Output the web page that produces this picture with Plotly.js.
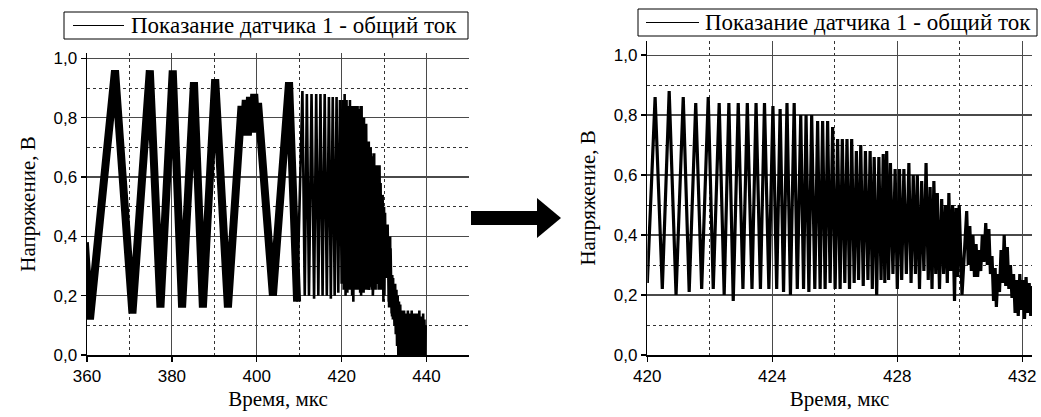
<!DOCTYPE html>
<html><head><meta charset="utf-8">
<script src="https://cdn.plot.ly/plotly-3.0.1.min.js"></script>
<style>html,body{margin:0;padding:0;background:#fff}#chart{width:1041px;height:417px}</style>
</head><body><div id="chart"></div>
<script>
// ---- data ----
// slow oscillation part, 360–409.5 µs (extrema)
const slowTime = [359.5, 360.7, 366.6, 370.7, 374.8, 377.3, 380.2, 382.4, 385.2, 387.3, 390.2, 393.2,
  396.4, 396.9, 397.4, 397.9, 398.4, 398.9, 399.4, 399.9, 400.3, 403.8, 407.6, 409.5];
const slowVolt = [0.38, 0.12, 0.96, 0.14, 0.96, 0.16, 0.96, 0.16, 0.92, 0.16, 0.93, 0.16,
  0.84, 0.74, 0.86, 0.74, 0.87, 0.75, 0.88, 0.76, 0.85, 0.20, 0.92, 0.18];
// narrow spikes, 409.5–420 µs
const spikeTime = [410.75, 411.3, 411.8, 412.3, 412.9, 413.5, 414.0, 414.5, 415.0, 415.5, 416.0, 416.5,
  417.0, 417.45, 417.9, 418.35, 418.8, 419.2, 419.6, 420.0];
const spikeVolt = [0.89, 0.20, 0.88, 0.20, 0.88, 0.19, 0.88, 0.20, 0.88, 0.20, 0.88, 0.20,
  0.87, 0.19, 0.87, 0.20, 0.87, 0.21, 0.86, 0.24];
// fast (chirped) oscillation, 420–430 µs
const chirpTime = [420.25, 420.48, 420.70, 420.92, 421.15, 421.34, 421.55, 421.74, 421.95, 422.11,
  422.30, 422.46, 422.61, 422.75, 422.91, 423.06, 423.20, 423.35, 423.48, 423.62, 423.75, 423.89,
  424.02, 424.14, 424.25, 424.36, 424.47, 424.58, 424.70, 424.80, 424.91, 425.00, 425.08, 425.17,
  425.26, 425.36, 425.45, 425.53, 425.61, 425.69, 425.77, 425.85, 425.93, 426.01, 426.09, 426.17,
  426.24, 426.32, 426.39, 426.47, 426.54, 426.62, 426.69, 426.76, 426.83, 426.91, 426.98, 427.06,
  427.13, 427.20, 427.26, 427.34, 427.41, 427.48, 427.55, 427.60, 427.66, 427.72, 427.78, 427.86,
  427.93, 428.00, 428.07, 428.14, 428.21, 428.29, 428.37, 428.44, 428.51, 428.58, 428.64, 428.71,
  428.78, 428.85, 428.92, 428.99, 429.05, 429.11, 429.17, 429.23, 429.28, 429.35, 429.42, 429.48,
  429.54, 429.60, 429.65, 429.71, 429.77, 429.83, 429.88, 429.93, 429.98];
const chirpVolt = [0.86, 0.22, 0.88, 0.20, 0.86, 0.21, 0.84, 0.22, 0.86, 0.22,
  0.84, 0.20, 0.84, 0.18, 0.84, 0.22, 0.84, 0.22, 0.84, 0.22, 0.84, 0.22,
  0.83, 0.22, 0.82, 0.21, 0.84, 0.20, 0.84, 0.22, 0.80, 0.22, 0.80, 0.21,
  0.80, 0.22, 0.78, 0.22, 0.78, 0.22, 0.78, 0.24, 0.76, 0.22, 0.72, 0.22,
  0.72, 0.24, 0.72, 0.22, 0.72, 0.24, 0.68, 0.25, 0.70, 0.23, 0.68, 0.25,
  0.68, 0.22, 0.66, 0.20, 0.66, 0.25, 0.67, 0.24, 0.68, 0.25, 0.64, 0.27,
  0.62, 0.22, 0.62, 0.25, 0.62, 0.27, 0.64, 0.24, 0.60, 0.27, 0.60, 0.22,
  0.58, 0.28, 0.64, 0.25, 0.56, 0.22, 0.58, 0.27, 0.54, 0.22, 0.52, 0.27,
  0.50, 0.24, 0.54, 0.28, 0.50, 0.18, 0.49, 0.26, 0.50];
// decay and noise, 430–440 µs
const decayTime = [430.07, 430.22, 430.27, 430.32, 430.37, 430.42, 430.47, 430.52, 430.57, 430.62,
  430.67, 430.72, 430.77, 430.83, 430.88, 430.93, 430.98, 431.03, 431.08, 431.13, 431.17, 431.22,
  431.27, 431.32, 431.37, 431.42, 431.47, 431.52, 431.57, 431.62, 431.67, 431.72, 431.77, 431.82,
  431.87, 431.92, 431.97, 432.02, 432.07, 432.12, 432.17, 432.22, 432.27, 432.33,
  432.45, 432.6, 432.75, 432.9, 433.05, 433.2, 433.35, 433.5, 433.65, 433.8, 433.95, 434.1,
  434.25, 434.4, 434.55, 434.7, 434.85, 435.0, 435.15, 435.3, 435.45, 435.6, 435.75, 435.9,
  436.05, 436.2, 436.35, 436.5, 436.65, 436.8, 436.95, 437.1, 437.25, 437.4, 437.55, 437.7,
  437.85, 438.0, 438.15, 438.3, 438.45, 438.6, 438.75, 438.9, 439.05, 439.2, 439.35, 439.5,
  439.65, 439.8];
const decayVolt = [0.20, 0.48, 0.30, 0.43, 0.28, 0.40, 0.26, 0.37, 0.26, 0.35,
  0.28, 0.40, 0.31, 0.44, 0.30, 0.42, 0.27, 0.33, 0.18, 0.29, 0.16, 0.27,
  0.21, 0.35, 0.24, 0.40, 0.23, 0.36, 0.22, 0.30, 0.19, 0.27, 0.14, 0.25,
  0.13, 0.27, 0.15, 0.25, 0.12, 0.26, 0.14, 0.24, 0.13, 0.23,
  0.10, 0.24, 0.07, 0.22, 0.03, 0.20, 0.00, 0.18, -0.02, 0.17, -0.02, 0.15,
  -0.03, 0.14, -0.02, 0.15, -0.03, 0.13, -0.02, 0.14, -0.03, 0.15, -0.02, 0.13,
  -0.03, 0.14, -0.02, 0.15, -0.03, 0.13, -0.02, 0.14, -0.03, 0.12, -0.02, 0.14,
  -0.03, 0.13, -0.02, 0.15, -0.03, 0.12, -0.02, 0.13, -0.03, 0.14, -0.02, 0.12,
  -0.03, 0.10];

const xTitle = 'Время, мкс';
const yTitle = 'Напряжение, В';
const seriesName = 'Показание датчика 1 - общий ток';

// ---- build ----
const timeUs = slowTime.concat(spikeTime, chirpTime, decayTime);
const voltage = slowVolt.concat(spikeVolt, chirpVolt, decayVolt);
const nSlow = slowTime.length;

const W = 1041, H = 417;
const px = x => x / W;
const py = y => 1 - y / H;
const serif = 'Liberation Serif';
const sans = 'Liberation Sans';

function axis(extra) {
  return Object.assign({
    showline: true, linecolor: '#000', linewidth: 1.5,
    ticks: 'outside', ticklen: 5, tickwidth: 1.3, tickcolor: '#000',
    showgrid: true, gridcolor: '#4a4a4a', gridwidth: 1.2, zeroline: false,
    tickfont: {family: sans, size: 17, color: '#000'},
    fixedrange: true
  }, extra);
}

const traces = [
  {x: timeUs.slice(0, nSlow), y: voltage.slice(0, nSlow), xaxis: 'x', yaxis: 'y',
   mode: 'lines', name: seriesName, line: {color: '#000', width: 8}, showlegend: false, hoverinfo: 'skip'},
  {x: timeUs.slice(nSlow - 1), y: voltage.slice(nSlow - 1), xaxis: 'x', yaxis: 'y',
   mode: 'lines', name: seriesName, line: {color: '#000', width: 2.6}, showlegend: false, hoverinfo: 'skip'},
  {x: timeUs, y: voltage, xaxis: 'x2', yaxis: 'y2',
   mode: 'lines', name: seriesName, line: {color: '#000', width: 3.2}, showlegend: false, hoverinfo: 'skip'}
];

const minorGrid = d => ({dtick: d, showgrid: true, gridcolor: '#333', griddash: 'dot', gridwidth: 1, ticks: ''});
const titleFont = () => ({family: serif, size: 21, color: '#000'});

const layout = {
  width: W, height: H, margin: {l: 0, r: 0, t: 0, b: 0},
  paper_bgcolor: '#fff', plot_bgcolor: '#fff', separators: ', ',
  showlegend: false,
  xaxis: axis({domain: [px(87), px(469)], range: [360, 450], tick0: 360, dtick: 20, minor: minorGrid(10),
    anchor: 'y', title: {text: xTitle, font: titleFont(), standoff: 6}}),
  yaxis: axis({domain: [py(355), py(53)], range: [0, 1.0185], tick0: 0, dtick: 0.2, tickformat: '.1f',
    minor: minorGrid(0.1), anchor: 'x', title: {text: yTitle, font: titleFont(), standoff: 12}}),
  xaxis2: axis({domain: [px(647.3), px(1032)], range: [420, 432.31], tick0: 420, dtick: 4, minor: minorGrid(2),
    anchor: 'y2', title: {text: xTitle, font: titleFont(), standoff: 6}}),
  yaxis2: axis({domain: [py(355), py(40.7)], range: [0, 1.048], tick0: 0, dtick: 0.2, tickformat: '.1f',
    minor: minorGrid(0.1), anchor: 'x2', title: {text: yTitle, font: titleFont(), standoff: 12}}),
  shapes: [
    // legend boxes
    {type: 'rect', xref: 'paper', yref: 'paper', x0: px(64), x1: px(468), y0: py(39), y1: py(12),
     line: {color: '#000', width: 1}, fillcolor: '#fff'},
    {type: 'line', xref: 'paper', yref: 'paper', x0: px(73), x1: px(124), y0: py(25.5), y1: py(25.5),
     line: {color: '#000', width: 1}},
    {type: 'rect', xref: 'paper', yref: 'paper', x0: px(638), x1: px(1037), y0: py(36), y1: py(9),
     line: {color: '#000', width: 1}, fillcolor: '#fff'},
    {type: 'line', xref: 'paper', yref: 'paper', x0: px(646), x1: px(699), y0: py(22.5), y1: py(22.5),
     line: {color: '#000', width: 1}},
    // arrow
    {type: 'rect', xref: 'paper', yref: 'paper', x0: px(471), x1: px(539), y0: py(225), y1: py(211),
     line: {width: 0}, fillcolor: '#000'},
    {type: 'path', xref: 'paper', yref: 'paper',
     path: `M ${px(537)} ${py(198)} L ${px(561)} ${py(218)} L ${px(537)} ${py(238)} Z`,
     line: {width: 0}, fillcolor: '#000'}
  ],
  annotations: [
    {xref: 'paper', yref: 'paper', x: px(129), y: py(25.5), xanchor: 'left', yanchor: 'middle',
     text: seriesName, showarrow: false, font: {family: serif, size: 23, color: '#000'}},
    {xref: 'paper', yref: 'paper', x: px(703), y: py(22.5), xanchor: 'left', yanchor: 'middle',
     text: seriesName, showarrow: false, font: {family: serif, size: 23, color: '#000'}}
  ]
};

Plotly.newPlot('chart', traces, layout, {displayModeBar: false, staticPlot: true});
</script></body></html>
